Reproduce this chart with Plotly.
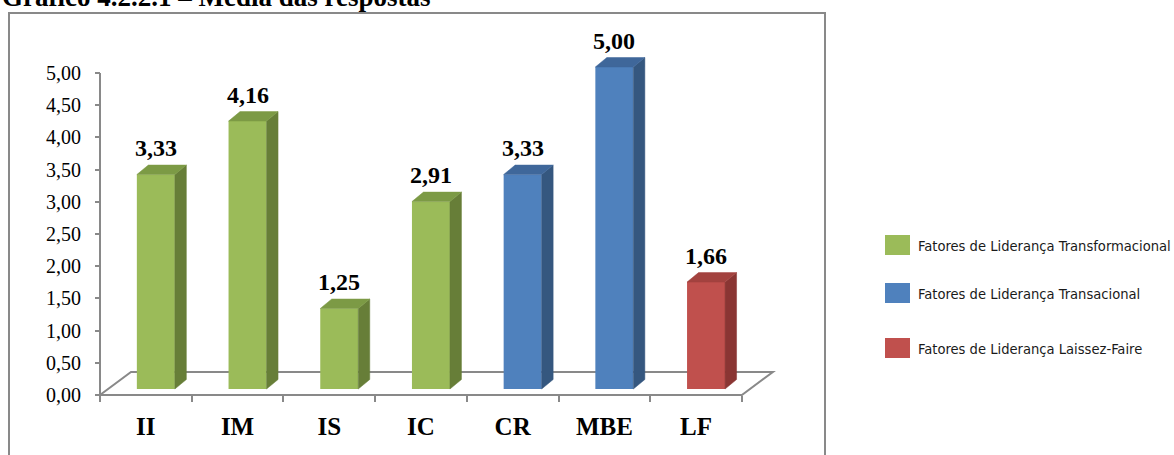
import plotly.graph_objects as go

# ---------------- data ----------------
categories = ["II", "IM", "IS", "IC", "CR", "MBE", "LF"]
values = [3.33, 4.16, 1.25, 2.91, 3.33, 5.00, 1.66]
groups = ["Fatores de Liderança Transformacional"] * 4 + \
         ["Fatores de Liderança Transacional"] * 2 + \
         ["Fatores de Liderança Laissez-Faire"]
value_labels = ["3,33", "4,16", "1,25", "2,91", "3,33", "5,00", "1,66"]
y_tickvals = [0, 0.5, 1, 1.5, 2, 2.5, 3, 3.5, 4, 4.5, 5]
y_ticktext = ["0,00", "0,50", "1,00", "1,50", "2,00", "2,50", "3,00", "3,50", "4,00", "4,50", "5,00"]
legend_names = ["Fatores de Liderança Transformacional",
                "Fatores de Liderança Transacional",
                "Fatores de Liderança Laissez-Faire"]
title_text = "Gráfico 4.2.2.1 – Média das respostas"

# ---------------- style ----------------
front_col = {legend_names[0]: "#9BBB59", legend_names[1]: "#4F81BD", legend_names[2]: "#C0504D"}
side_col = {legend_names[0]: "#677E38", legend_names[1]: "#35577F", legend_names[2]: "#8A3533"}
top_col = {legend_names[0]: "#7C9A45", legend_names[1]: "#3F679A", legend_names[2]: "#A3423F"}
axis_col = "#898989"
serif = "Liberation Serif, Times New Roman, serif"
narrow = "Liberation Sans Narrow, Arial Narrow, DejaVu Sans Condensed, sans-serif"

W, H = 1174, 455
U = 91.7   # px per category
V = 64.4   # px per value unit
L, R, T, B = 97, 790, 30, 398
X0px, Y0px = 100, 395
n = len(categories)
xr = [-0.5 - (X0px - L) / U, -0.5 + (R - X0px) / U]
yr = [-(B - Y0px) / V, (Y0px - T) / V]


def xp(px):
    return (px - L) / (R - L)


def yp(py):
    return (B - py) / (B - T)


ox = 10 / U      # bar shift right
oy = 6 / V       # bar lift
bw = 38 / U      # bar front width
dxb = 11.5 / U   # bar depth x
dyb = 9.5 / V    # bar depth y
dxf = 31 / U     # floor depth
dyf = 23 / V

fig = go.Figure()

# front faces
fig.add_trace(go.Bar(
    x=[i + ox for i in range(n)], y=values, base=oy, width=bw,
    marker=dict(color=[front_col[g] for g in groups], line=dict(width=0)),
    showlegend=False, hoverinfo="skip"))

# side and top faces
for i, (v, g) in enumerate(zip(values, groups)):
    xl = i + ox - bw / 2
    xrr = i + ox + bw / 2
    fig.add_trace(go.Scatter(
        x=[xrr, xrr + dxb, xrr + dxb, xrr, xrr],
        y=[oy, oy + dyb, oy + v + dyb, oy + v, oy],
        fill="toself", fillcolor=side_col[g], mode="lines",
        line=dict(width=0.5, color=side_col[g]), showlegend=False, hoverinfo="skip"))
    fig.add_trace(go.Scatter(
        x=[xl, xrr, xrr + dxb, xl + dxb, xl],
        y=[oy + v, oy + v, oy + v + dyb, oy + v + dyb, oy + v],
        fill="toself", fillcolor=top_col[g], mode="lines",
        line=dict(width=0.5, color=top_col[g]), showlegend=False, hoverinfo="skip"))

shapes = []
# floor
xa, xb = -0.5, n - 0.5
shapes.append(dict(type="path", xref="x", yref="y", layer="below",
                   path=f"M {xa},0 L {xb},0 L {xb + dxf},{dyf} L {xa + dxf},{dyf} Z",
                   line=dict(color=axis_col, width=2), fillcolor="white"))
# vertical axis line
shapes.append(dict(type="line", xref="x", yref="y", x0=-0.5, x1=-0.5, y0=0, y1=max(y_tickvals),
                   line=dict(color=axis_col, width=2), layer="below"))
# outer frame
shapes.append(dict(type="rect", xref="paper", yref="paper",
                   x0=xp(9), x1=xp(825), y0=yp(470), y1=yp(13),
                   line=dict(color=axis_col, width=2), fillcolor="rgba(0,0,0,0)", layer="below"))

annotations = []
for i, (v, t) in enumerate(zip(values, value_labels)):
    annotations.append(dict(x=i + ox, y=oy + v + dyb, xref="x", yref="y", text=t,
                            showarrow=False, yanchor="bottom", xanchor="center", yshift=2,
                            font=dict(family=serif, size=24, color="black", weight="bold")))

# title (cut at top)
annotations.append(dict(x=xp(0), y=yp(13.5), xref="paper", yref="paper", text=title_text,
                        showarrow=False, xanchor="left", yanchor="bottom",
                        font=dict(family=serif, size=27, color="black", weight="bold")))

# manual legend
leg_y = [245, 293, 348]
for name, cy in zip(legend_names, leg_y):
    shapes.append(dict(type="rect", xref="paper", yref="paper",
                       x0=xp(885), x1=xp(910), y0=yp(cy + 10), y1=yp(cy - 10),
                       line=dict(width=0), fillcolor=front_col[name]))
    annotations.append(dict(x=xp(916), y=yp(cy), xref="paper", yref="paper", text=name,
                            showarrow=False, xanchor="left", yanchor="middle",
                            font=dict(family=narrow, size=14.6, color="#1a1a1a")))

fig.update_layout(
    width=W, height=H,
    margin=dict(l=L, r=W - R, t=T, b=H - B, pad=0),
    paper_bgcolor="white", plot_bgcolor="white",
    showlegend=False,
    shapes=shapes, annotations=annotations,
    xaxis=dict(range=xr, tickvals=list(range(n)), ticktext=categories,
               ticks="", showgrid=False, zeroline=False, showline=False,
               anchor="free", position=(B - Y0px) / (B - T),
               tickfont=dict(family=serif, size=25, color="black", weight="bold"),
               ticklabelstandoff=14,
               minor=dict(tickmode="array", tickvals=[k - 0.5 for k in range(n + 1)],
                          ticks="outside", ticklen=6, tickwidth=2, tickcolor=axis_col,
                          showgrid=False)),
    yaxis=dict(range=yr, tickvals=y_tickvals, ticktext=y_ticktext,
               ticks="outside", ticklen=5, tickwidth=2, tickcolor=axis_col,
               showgrid=False, zeroline=False, showline=False,
               anchor="free", position=(X0px - L) / (R - L),
               tickfont=dict(family=serif, size=20, color="black"),
               ticklabelstandoff=10),
)

fig.write_html("out.html")
